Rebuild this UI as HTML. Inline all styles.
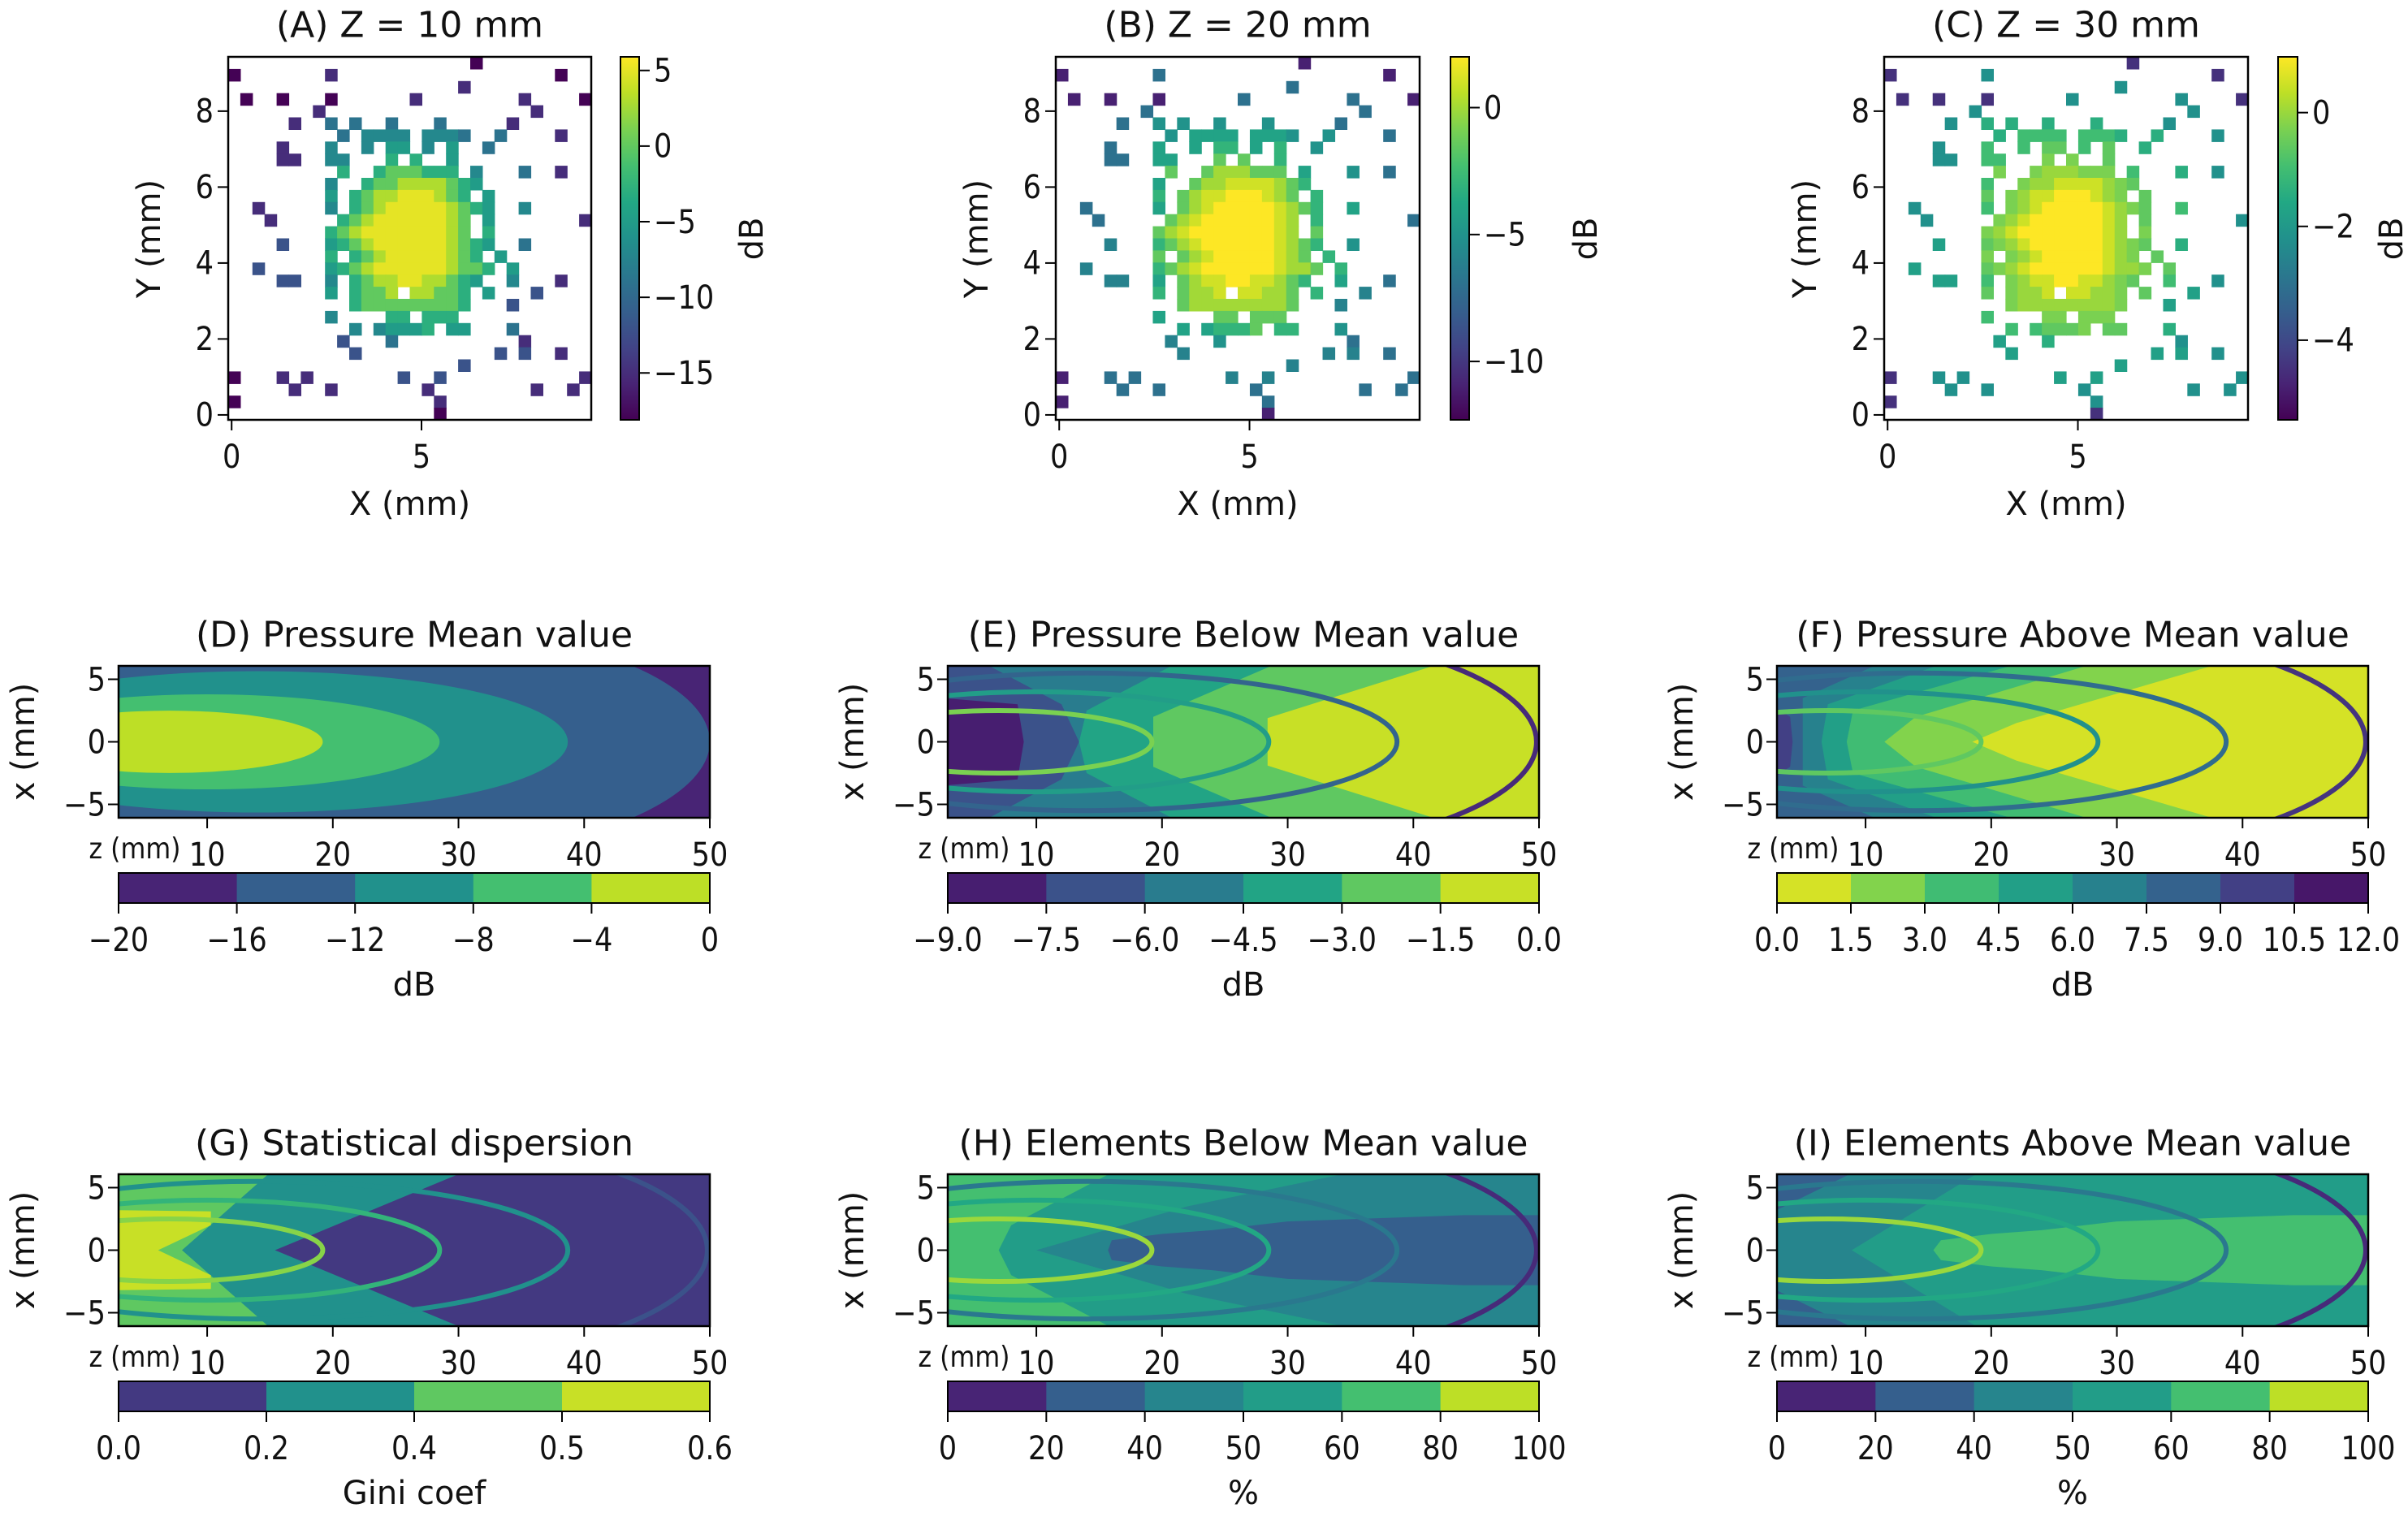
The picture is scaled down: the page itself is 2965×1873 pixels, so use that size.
<!DOCTYPE html>
<html><head><meta charset="utf-8"><title>Pressure field panels</title>
<style>
html,body{margin:0;padding:0;background:#fff;}
svg{display:block;font-family:"DejaVu Sans","Liberation Sans",sans-serif;}
</style></head>
<body>
<svg id="chart" xmlns="http://www.w3.org/2000/svg" width="2965" height="1873" viewBox="0 0 2965 1873"></svg>
<script>
// ---------- DATA ----------
const gridRows = [
"....................0.........",
"0.......1..................0..",
"...................1..........",
".0..0...0......1........1....0",
".......1.................1....",
".....1..3.3..3...3.....1......",
".........3.4444.4443..3....1..",
"....1...4..4.55.4.5..3........",
"....11..44...6.6..5...........",
".........6..6777666.4...3..1..",
"........4..6778888765.........",
"........5.6788999876.5........",
"..1.....4.678999998765..4.....",
"...1.....67899999987.5.......1",
"........678999999987.6........",
"....2...56789999998765..3.....",
"........6.67899999876.5.......",
"..2.....56789999998776.5......",
"....22..4.67889988765..4...1..",
"........5.6778.88776.5...2....",
"..........6777777776...2......",
"........4....66.666...........",
"..........4.45556.55...3......",
".........2...3..........1.....",
"..........2...........2.2..1..",
"...................2..........",
"0...1.1.......2..2...........1",
".....1..1.......1........1..1.",
"0................1............",
".................0............"
];
const levelDbA = [-18,-15,-12,-9,-7,-5,-3,0,3,5];
const levelDbB = [-11,-7,-6,-5,-4,-3,-1.5,0,1,2];
const levelDbC = [-4.5,-2.2,-1.8,-1.4,-1.0,-0.6,-0.3,0,0.5,1];
const cbTicksA = [5,0,-5,-10,-15];
const cbTicksB = [0,-5,-10];
const cbTicksC = [0,-2,-4];
const hmXTicks = [0,5];
const hmYTicks = [0,2,4,6,8];

const zTicks = [10,20,30,40,50];
const xTicks = [5,0,-5];
const ringGeom = [[7,12.2,2.5],[10,18.5,4.0],[14,24.7,5.5],[20,29.8,9.5]];
const ellipsesD = [[20,30,10,1],[14,24.7,5.65,2],[10,18.5,3.8,3],[7,12.2,2.49,4]];
const levelsD = [-20,-16,-12,-8,-4,0];
const levelsE = [-9,-7.5,-6,-4.5,-3,-1.5,0];
const levelsF = [0,1.5,3,4.5,6,7.5,9,10.5,12];
const levelsG = [0,0.2,0.4,0.5,0.6];
const levelsH = [0,20,40,50,60,80,100];
const labelsD = ["\u221220","\u221216","\u221212","\u22128","\u22124","0"];
const labelsE = ["\u22129.0","\u22127.5","\u22126.0","\u22124.5","\u22123.0","\u22121.5","0.0"];
const labelsF = ["0.0","1.5","3.0","4.5","6.0","7.5","9.0","10.5","12.0"];
const labelsG = ["0.0","0.2","0.4","0.5","0.6"];
const labelsH = ["0","20","40","50","60","80","100"];
const regionsE = [
 {bin:3, side:'R', pts:[[21,6.2],[14,2.5],[13.4,0]]},
 {bin:4, side:'R', pts:[[29,6.2],[19.3,2.0],[19.3,0]]},
 {bin:5, side:'R', pts:[[42,6.2],[28.4,1.9],[28.4,0]]},
 {bin:1, side:'L', pts:[[6,6.2],[12,3],[13.4,0]]},
 {bin:0, side:'L', pts:[[2.5,3.5],[8.5,3],[9,0]]}
];
const regionsF = [
 {bin:4, side:'R', pts:[[11,6.2],[5,3.5],[5,0]]},
 {bin:3, side:'R', pts:[[16,6.2],[7,3],[6.5,0]]},
 {bin:2, side:'R', pts:[[22,6.2],[9,2.5],[8.5,0]]},
 {bin:1, side:'R', pts:[[28,6.2],[14,2],[11.5,0]]},
 {bin:0, side:'R', pts:[[38,6.2],[22,1.5],[18.5,0]]},
 {bin:6, side:'L', pts:[[2.5,3],[4,2],[4.2,0]]}
];
const regionsG = [
 {bin:1, side:'L', pts:[[30.3,6.2],[15.4,0]]},
 {bin:2, side:'L', pts:[[15,6.2],[8,0]]},
 {bin:3, side:'L', pts:[[2.5,3.2],[10.3,3.1],[10.3,2],[6.1,0]]}
];
const regionsH = [
 {bin:3, side:'L', pts:[[35,6.2],[22,3.5],[10,0]]},
 {bin:4, side:'L', pts:[[16,6.2],[8,2],[7,0]]},
 {bin:1, side:'R', pts:[[50.5,2.8],[44,2.8],[30,2.3],[24,1.6],[20,1.3],[16,0.8],[15.7,0]]}
];
const regionsI = [
 {bin:2, side:'L', pts:[[19,6.2],[8.9,0]]},
 {bin:1, side:'L', pts:[[9,6.2],[2.5,3]]},
 {bin:4, side:'R', pts:[[50.5,2.8],[44,2.8],[30,2.3],[24,1.6],[20,1.3],[16,0.8],[15.4,0]]}
];

// ---------- HELPERS ----------
const NS = 'http://www.w3.org/2000/svg';
const svg = document.getElementById('chart');
const VIR = [[0,'#440154'],[.1,'#482475'],[.2,'#414487'],[.3,'#355f8d'],[.4,'#2a788e'],[.5,'#21918c'],[.6,'#22a884'],[.7,'#44bf70'],[.8,'#7ad151'],[.9,'#bddf26'],[1,'#fde725']];
function hx(h){return [parseInt(h.substr(1,2),16),parseInt(h.substr(3,2),16),parseInt(h.substr(5,2),16)];}
function viridis(t){
  t=Math.max(0,Math.min(1,t));
  for(let i=0;i<VIR.length-1;i++){
    if(t<=VIR[i+1][0]){const a=hx(VIR[i][1]),b=hx(VIR[i+1][1]);const f=(t-VIR[i][0])/(VIR[i+1][0]-VIR[i][0]);
      return 'rgb('+a.map((v,k)=>Math.round(v+(b[k]-v)*f)).join(',')+')';}
  }
  return VIR[VIR.length-1][1];
}
function mk(tag, attrs, parent){
  const e=document.createElementNS(NS,tag);
  for(const k in attrs) e.setAttribute(k,attrs[k]);
  (parent||svg).appendChild(e);
  return e;
}
function txt(x,y,s,size,anchor,parent,rot,sx){
  const a={x:x,y:y,'font-size':size,'text-anchor':anchor||'middle','dominant-baseline':'central',fill:'#111'};
  let tr='';
  if(rot) tr='rotate('+rot+' '+x+' '+y+')';
  if(sx) tr+=' translate('+x+' '+y+') scale('+sx+' 1) translate('+(-x)+' '+(-y)+')';
  if(tr) a.transform=tr;
  const t=mk('text',a,parent); t.textContent=s; return t;
}
const TS=0.88;
const defs = mk('defs',{});
const grad = mk('linearGradient',{id:'virgrad',x1:0,y1:1,x2:0,y2:0},defs);
VIR.forEach(v=>{ mk('stop',{offset:v[0],'stop-color':v[1]},grad); });

// ---------- HEATMAP PANELS ----------
const hmPanels = [
 {key:'a',title:'(A) Z = 10 mm',ax:[281,70,728,517],cb:[764,70,787,517],cbRange:[-18.1,5.9],ticks:cbTicksA,vals:levelDbA,cbLab:926},
 {key:'b',title:'(B) Z = 20 mm',ax:[1300,70,1748,517],cb:[1786,70,1809,517],cbRange:[-12.3,2.0],ticks:cbTicksB,vals:levelDbB,cbLab:1953},
 {key:'c',title:'(C) Z = 30 mm',ax:[2320,70,2768,517],cb:[2805,70,2829,517],cbRange:[-5.4,0.98],ticks:cbTicksC,vals:levelDbC,cbLab:2945}
];
const hmXRange=[-0.09,9.47], hmYRange=[-0.13,9.43];
hmPanels.forEach(p=>{
  const g=mk('g',{});
  
  
  const [x0,y0,x1,y1]=p.ax;
  const X=v=>x0+(v-hmXRange[0])/(hmXRange[1]-hmXRange[0])*(x1-x0);
  const Y=v=>y1-(v-hmYRange[0])/(hmYRange[1]-hmYRange[0])*(y1-y0);
  const nC=30,nR=gridRows.length, cw=(x1-x0)/nC, ch=(y1-y0)/nR;
  gridRows.forEach((row,r)=>{
    const rr=row.padEnd(nC,'.').slice(0,nC);
    for(let c=0;c<nC;c++){
      const ch_=rr[c]; if(ch_==='.') continue;
      const v=p.vals[+ch_];
      const t=(v-p.cbRange[0])/(p.cbRange[1]-p.cbRange[0]);
      const cell=mk('rect',{x:(x0+c*cw).toFixed(2),y:(y0+r*ch).toFixed(2),width:(cw+0.6).toFixed(2),height:(ch+0.6).toFixed(2),fill:viridis(t)},g);
      
      
    }
  });
  const fr=mk('rect',{x:x0,y:y0,width:x1-x0,height:y1-y0,fill:'none',stroke:'#000','stroke-width':2.5},g);
  
  
  hmXTicks.forEach(v=>{
    const l=mk('line',{x1:X(v),x2:X(v),y1:y1,y2:y1+13,stroke:'#000','stroke-width':2},g);
    
    
    const t=txt(X(v),y1+45,String(v),40,'middle',g,0,TS);
    
    
  });
  hmYTicks.forEach(v=>{
    const l=mk('line',{x1:x0-13,x2:x0,y1:Y(v),y2:Y(v),stroke:'#000','stroke-width':2},g);
    
    
    const t=txt(x0-18,Y(v),String(v),40,'end',g,0,TS);
    
    
  });
  const ti=txt((x0+x1)/2,31,p.title,44,'middle',g);
  
  
  const xl=txt((x0+x1)/2,621,'X (mm)',40,'middle',g);
  
  
  const yl=txt(x0-97,294,'Y (mm)',40,'middle',g,-90);
  
  
  const [c0,cy0,c1,cy1]=p.cb;
  const cb=mk('rect',{x:c0,y:cy0,width:c1-c0,height:cy1-cy0,fill:'url(#virgrad)',stroke:'#000','stroke-width':2},g);
  
  
  const CY=v=>cy1-(v-p.cbRange[0])/(p.cbRange[1]-p.cbRange[0])*(cy1-cy0);
  p.ticks.forEach(v=>{
    const l=mk('line',{x1:c1,x2:c1+13,y1:CY(v),y2:CY(v),stroke:'#000','stroke-width':2},g);
    
    
    const t=txt(c1+18,CY(v),(v<0?'\u2212':'')+Math.abs(v),40,'start',g,0,TS);
    
    
  });
  const cl=txt(p.cbLab,294,'dB',40,'middle',g,-90);
  
  
});

// ---------- CONTOUR PANELS ----------
const cols=[146,1167,2188], AXW=728, AXH=187, rowOff=[0,626];
const Z0=2.95,Z1=50,XR=6.07;
const ctPanels = [
 {key:'d',col:0,row:0,title:'(D) Pressure Mean value',levels:levelsD,labels:labelsD,rev:false,bg:0,ell:ellipsesD,regions:[],rings:null,cbLab:'dB'},
 {key:'e',col:1,row:0,title:'(E) Pressure Below Mean value',levels:levelsE,labels:labelsE,rev:false,bg:2,regions:regionsE,rings:[0.8,0.55,0.32,0.12],cbLab:'dB'},
 {key:'f',col:2,row:0,title:'(F) Pressure Above Mean value',levels:levelsF,labels:labelsF,rev:true,bg:5,regions:regionsF,rings:[0.75,0.5,0.35,0.15],cbLab:'dB'},
 {key:'g',col:0,row:1,title:'(G) Statistical dispersion',levels:levelsG,labels:labelsG,rev:false,bg:0,regions:regionsG,rings:[0.82,0.65,0.5,0.25],cbLab:'Gini coef'},
 {key:'h',col:1,row:1,title:'(H) Elements Below Mean value',levels:levelsH,labels:labelsH,rev:false,bg:2,regions:regionsH,rings:[0.85,0.6,0.4,0.12],cbLab:'%'},
 {key:'i',col:2,row:1,title:'(I) Elements Above Mean value',levels:levelsH,labels:labelsH,rev:false,bg:3,regions:regionsI,rings:[0.85,0.6,0.4,0.12],cbLab:'%'}
];
ctPanels.forEach(p=>{
  const x0=cols[p.col], off=rowOff[p.row], y0=820+off, y1=y0+AXH, x1=x0+AXW;
  const SX=z=>x0+(z-Z0)/(Z1-Z0)*AXW;
  const SY=x=>y0+(XR-x)/(2*XR)*AXH;
  const lv=p.levels, n=lv.length-1;
  const binColor=b=>{const m=(lv[b]+lv[b+1])/2;let t=(m-lv[0])/(lv[n]-lv[0]);if(p.rev)t=1-t;return viridis(t);};
  const g=mk('g',{});
  
  
  const cp=mk('clipPath',{id:'clip-'+p.key},defs);
  mk('rect',{x:x0,y:y0,width:AXW,height:AXH},cp);
  const fg=mk('g',{'clip-path':'url(#clip-'+p.key+')'},g);
  const bg=mk('rect',{x:x0,y:y0,width:AXW,height:AXH,fill:binColor(p.bg)},fg);
  
  
  (p.ell||[]).forEach(e=>{
    const el=mk('ellipse',{cx:SX(e[0]),cy:SY(0),rx:SX(e[0]+e[1])-SX(e[0]),ry:SY(0)-SY(e[2]),fill:binColor(e[3])},fg);
    
    
  });
  p.regions.forEach(r=>{
    const up=r.pts;
    const down=up.slice().reverse().filter(q=>q[1]!==0).map(q=>[q[0],-q[1]]);
    const all=up.concat(down);
    if(r.side==='R'){all.push([50.5,-6.3]);all.push([50.5,6.3]);}
    else {all.push([2.5,-6.3]);all.push([2.5,6.3]);}
    const poly=mk('polygon',{points:all.map(q=>SX(q[0]).toFixed(1)+','+SY(q[1]).toFixed(1)).join(' '),fill:binColor(r.bin)},fg);
    
    
  });
  if(p.rings){
    ringGeom.forEach((rg,i)=>{
      const el=mk('ellipse',{cx:SX(rg[0]),cy:SY(0),rx:SX(rg[0]+rg[1])-SX(rg[0]),ry:SY(0)-SY(rg[2]),fill:'none',stroke:viridis(p.rings[i]),'stroke-width':6},fg);
      
      
    });
  }
  const fr=mk('rect',{x:x0,y:y0,width:AXW,height:AXH,fill:'none',stroke:'#000','stroke-width':2.5},g);
  
  
  zTicks.forEach(v=>{
    const l=mk('line',{x1:SX(v),x2:SX(v),y1:y1,y2:y1+13,stroke:'#000','stroke-width':2},g);
    
    
    const t=txt(SX(v),y1+45,String(v),40,'middle',g,0,TS);
    
    
  });
  xTicks.forEach(v=>{
    const l=mk('line',{x1:x0-13,x2:x0,y1:SY(v),y2:SY(v),stroke:'#000','stroke-width':2},g);
    
    
    const t=txt(x0-16,SY(v),(v<0?'\u2212':'')+Math.abs(v),40,'end',g,0,TS);
    
    
  });
  const ti=txt(x0+AXW/2,782+off,p.title,44,'middle',g);
  
  
  const zl=txt(x0+20,1045+off,'z (mm)',36,'middle',g,0,TS);
  
  
  const yl=txt(x0-117,(y0+y1)/2,'x (mm)',40,'middle',g,-90);
  
  
  const cy0=1075+off, cy1=1112+off;
  for(let b=0;b<n;b++){
    const r=mk('rect',{x:x0+b/n*AXW,y:cy0,width:AXW/n+0.5,height:cy1-cy0,fill:binColor(b)},g);
    
    
  }
  const cbf=mk('rect',{x:x0,y:cy0,width:AXW,height:cy1-cy0,fill:'none',stroke:'#000','stroke-width':2},g);
  
  
  p.labels.forEach((s,i)=>{
    const xx=x0+i/n*AXW;
    const l=mk('line',{x1:xx,x2:xx,y1:cy1,y2:cy1+13,stroke:'#000','stroke-width':2},g);
    
    
    const t=txt(xx,1157+off,s,40,'middle',g,0,TS);
    
    
  });
  const cl=txt(x0+AXW/2,1213+off,p.cbLab,40,'middle',g);
  
  
});
</script>
</body></html>
